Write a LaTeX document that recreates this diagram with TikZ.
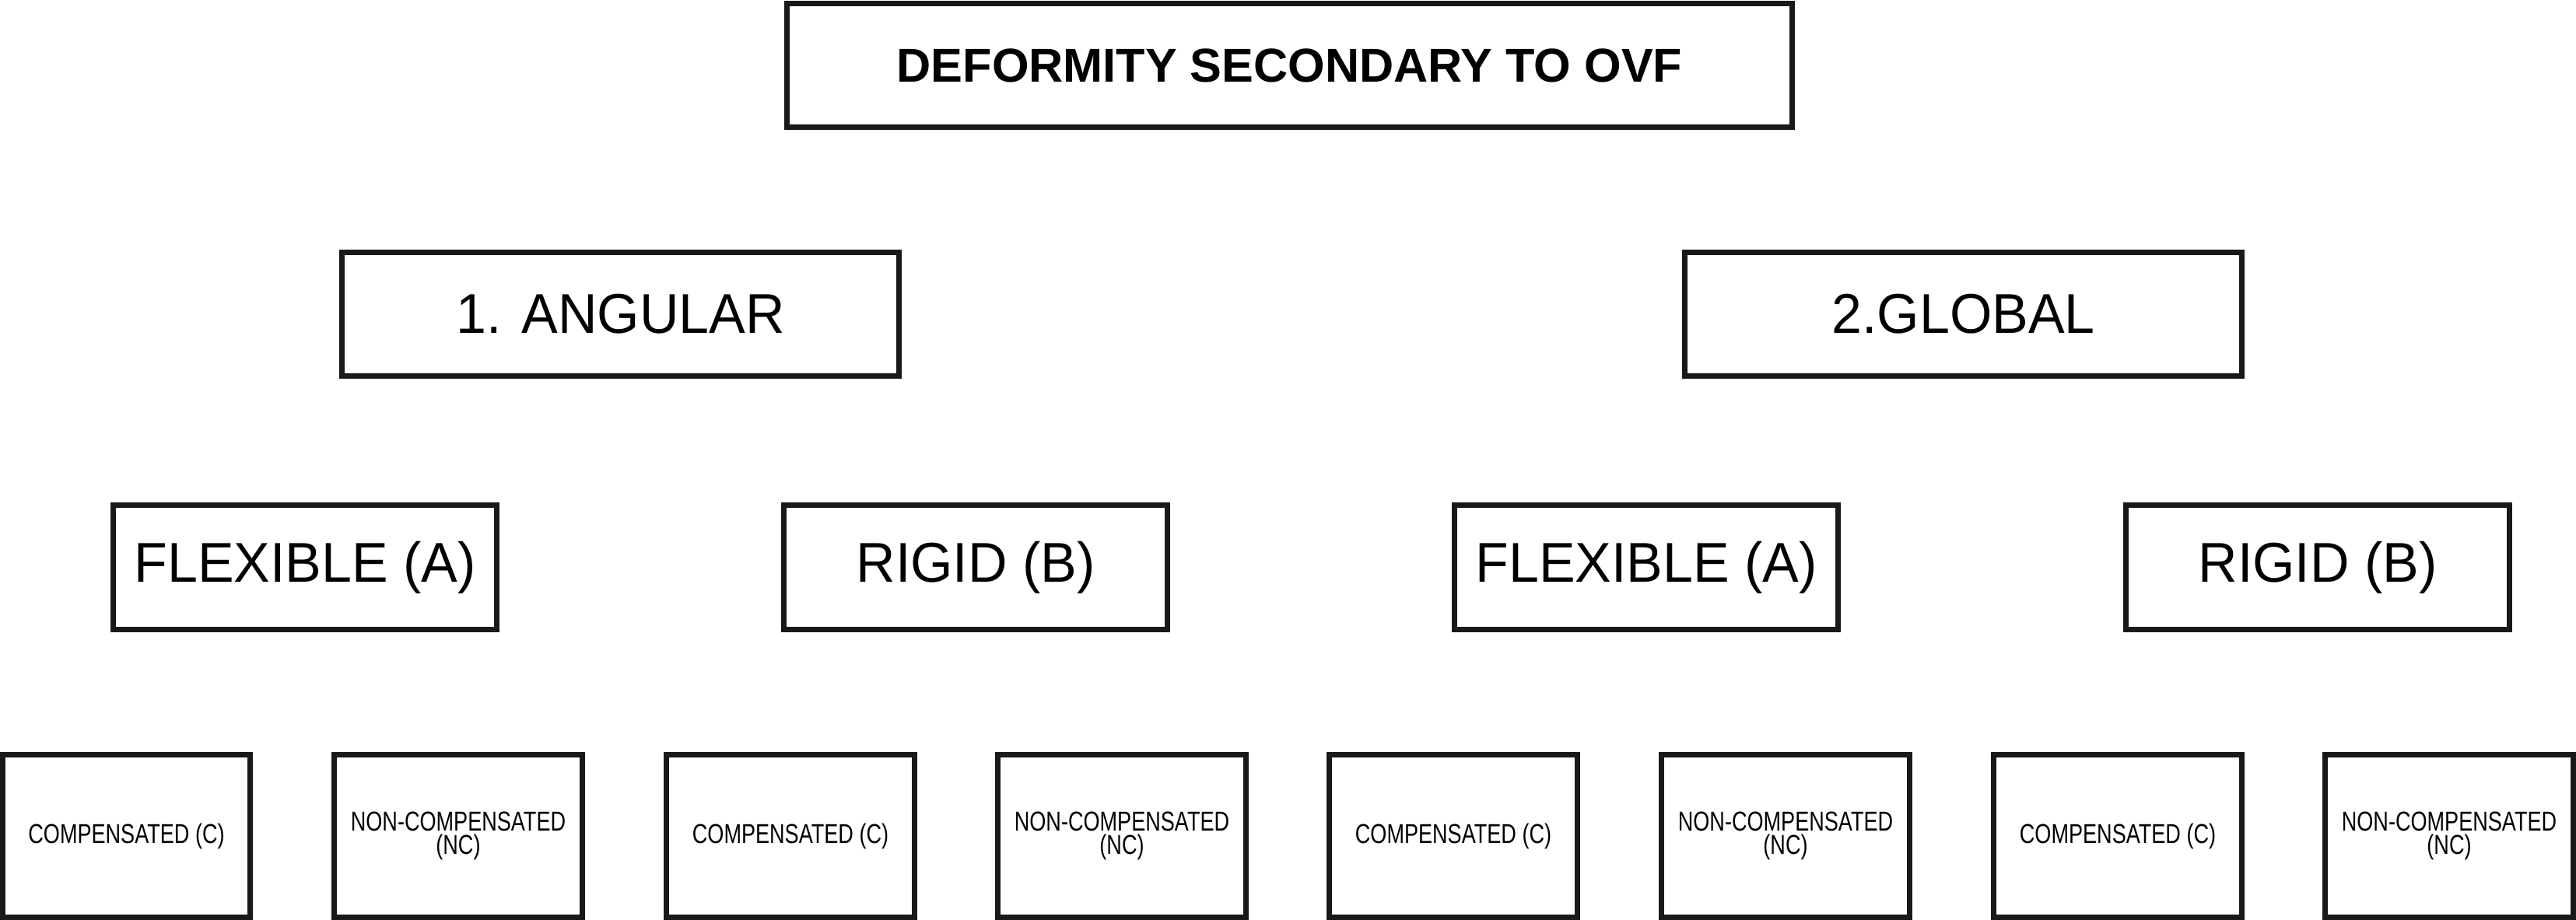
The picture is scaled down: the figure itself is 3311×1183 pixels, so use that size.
\documentclass[tikz,border=0pt]{standalone}
\usepackage{fontspec}
\setmainfont{Liberation Sans}
\newfontfamily\condfont{Liberation Sans}[FakeStretch=0.77]
\newfontfamily\midfont{Liberation Sans}[FakeStretch=0.97]
\begin{document}
\begin{tikzpicture}[x=0.01cm, y=-0.01cm,
  box/.style={draw=black!90, line width=0.07cm, inner sep=0pt, align=center},
  topbox/.style={box, minimum width=12.92cm, minimum height=1.59cm, font=\bfseries\fontsize{17.4}{20}\selectfont},
  lvtwo/.style={box, minimum width=7.15cm, minimum height=1.59cm, font=\midfont\fontsize{20.5}{24}\selectfont},
  lvthree/.style={box, minimum width=4.93cm, minimum height=1.60cm, font=\midfont\fontsize{20.5}{24}\selectfont},
  leaf/.style={box, minimum width=3.18cm, minimum height=2.09cm, font=\condfont\fontsize{10}{8.6}\selectfont}]
\useasboundingbox (0,0) rectangle (3311,1183);
\node[topbox] (top) at (1657.5,84) {DEFORMITY SECONDARY TO OVF};
\node[lvtwo] (ang) at (797.5,404) {1. ANGULAR};
\node[lvtwo] (glo) at (2523.5,404) {2.GLOBAL};
\node[lvthree] (fa1) at (392,729.5) {FLEXIBLE (A)};
\node[lvthree] (rb1) at (1254,729.5) {RIGID (B)};
\node[lvthree] (fa2) at (2116,729.5) {FLEXIBLE (A)};
\node[lvthree] (rb2) at (2979,729.5) {RIGID (B)};
\node[leaf] (c1) at (162.5,1075) {COMPENSATED (C)};
\node[leaf] (n1) at (589,1075) {NON-COMPENSATED\\(NC)};
\node[leaf] (c2) at (1016,1075) {COMPENSATED (C)};
\node[leaf] (n2) at (1442,1075) {NON-COMPENSATED\\(NC)};
\node[leaf] (c3) at (1868,1075) {COMPENSATED (C)};
\node[leaf] (n3) at (2295,1075) {NON-COMPENSATED\\(NC)};
\node[leaf] (c4) at (2722,1075) {COMPENSATED (C)};
\node[leaf] (n4) at (3148,1075) {NON-COMPENSATED\\(NC)};
\end{tikzpicture}
\end{document}
